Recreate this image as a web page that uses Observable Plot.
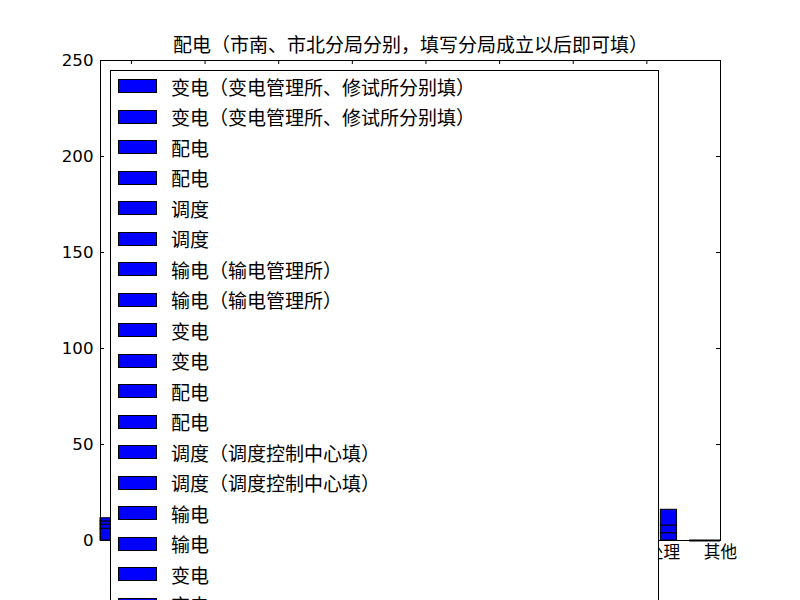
<!DOCTYPE html>
<html>
<head>
<meta charset="utf-8">
<script src="https://cdn.jsdelivr.net/npm/d3@7"></script>
<script src="https://cdn.jsdelivr.net/npm/@observablehq/plot@0.6"></script>
<style>
  html, body { margin: 0; padding: 0; background: #fff; overflow: hidden; }
  #wrap { position: relative; width: 800px; height: 600px; overflow: hidden; }
  #legend {
    position: absolute; left: 110px; top: 70px; width: 549px; height: 600px;
    border: 1px solid #000; background: #fff; box-sizing: border-box; padding-top: 0px;
  }
  .row { height: 30.5px; display: flex; align-items: center; }
  .patch { width: 39px; height: 14px; margin-left: 7px; box-sizing: border-box;
           border: 1px solid #000; background: #0000ff; flex: none; }
  .lab { margin-left: 14px; font-family: "Noto Sans CJK SC", sans-serif; font-size: 19px; color: #000; white-space: nowrap; }
</style>
</head>
<body>
<div id="wrap"></div>
<script>
// ---- data ----
const title = "配电（市南、市北分局分别，填写分局成立以后即可填）";
const categories = ["总计", "人为", "设备", "外力", "自然", "用户", "计划", "故障处理", "其他"];
const yTicks = [0, 50, 100, 150, 200, 250];
const barStart = [-0.42, 7.19, 7.58];
const barEnd = [-0.20, 7.41, 8.0];
const barSegments = [[6.1, 2.1, 1.7, 1.7], [3.8, 4.0, 8.2], [0]];
const legendLabels = [
  "变电（变电管理所、修试所分别填）", "变电（变电管理所、修试所分别填）",
  "配电", "配电", "调度", "调度",
  "输电（输电管理所）", "输电（输电管理所）",
  "变电", "变电", "配电", "配电",
  "调度（调度控制中心填）", "调度（调度控制中心填）",
  "输电", "输电", "变电", "变电", "配电", "配电"
];

// ---- build ----
const rects = [];
barSegments.forEach((segs, i) => {
  let base = 0;
  segs.forEach(v => {
    rects.push({x1: barStart[i], x2: barEnd[i], y1: base, y2: base + v});
    base += v;
  });
});
const solid = rects.filter(d => d.y2 > d.y1);
const flat = rects.filter(d => d.y2 === d.y1);

const W = 800, H = 600, ML = 100, MR = 80, MT = 60, MB = 60;
const FW = W - ML - MR, FH = H - MT - MB, TK = 4;
const font = "DejaVu Sans, Noto Sans CJK SC, sans-serif";

const chart = Plot.plot({
  width: W, height: H,
  marginLeft: ML, marginRight: MR, marginTop: MT, marginBottom: MB,
  style: {fontFamily: font, background: "white", color: "black"},
  x: {domain: [-0.42, 8], axis: null},
  y: {domain: [0, 250], axis: null},
  marks: [
    Plot.rect(solid, {x1: "x1", x2: "x2", y1: "y1", y2: "y2", fill: "#0000ff", stroke: "black", strokeWidth: 1}),
    Plot.frame({stroke: "black", strokeWidth: 1}),
    Plot.ruleY(flat, {x1: "x1", x2: "x2", y: "y1", stroke: "black", strokeWidth: 2}),
    // inward ticks
    Plot.tickY(yTicks, {y: d => d, insetRight: FW - TK, stroke: "black"}),
    Plot.tickY(yTicks, {y: d => d, insetLeft: FW - TK, stroke: "black"}),
    Plot.tickX(d3.range(categories.length), {x: d => d, insetBottom: FH - TK, stroke: "black"}),
    Plot.tickX(d3.range(categories.length), {x: d => d, insetTop: FH - TK, stroke: "black"}),
    Plot.axisY({ticks: yTicks, tickSize: 0, tickPadding: 7, fontSize: 16.67, tickFormat: d => d, fontFamily: font}),
    Plot.axisX({ticks: d3.range(categories.length), tickSize: 0, tickPadding: 6, fontSize: 16.67,
                tickFormat: i => categories[i], fontFamily: font}),
    Plot.text([title], {frameAnchor: "top", lineAnchor: "middle", dy: -15, fontSize: 19,
                        fontFamily: "Noto Sans CJK SC, sans-serif", fill: "black"})
  ]
});

const wrap = document.getElementById("wrap");
wrap.appendChild(chart);

// legend overlay
const legend = document.createElement("div");
legend.id = "legend";
legendLabels.forEach(l => {
  const row = document.createElement("div");
  row.className = "row";
  const p = document.createElement("div"); p.className = "patch";
  const t = document.createElement("span"); t.className = "lab"; t.textContent = l;
  row.appendChild(p); row.appendChild(t);
  legend.appendChild(row);
});
wrap.appendChild(legend);
</script>
</body>
</html>
